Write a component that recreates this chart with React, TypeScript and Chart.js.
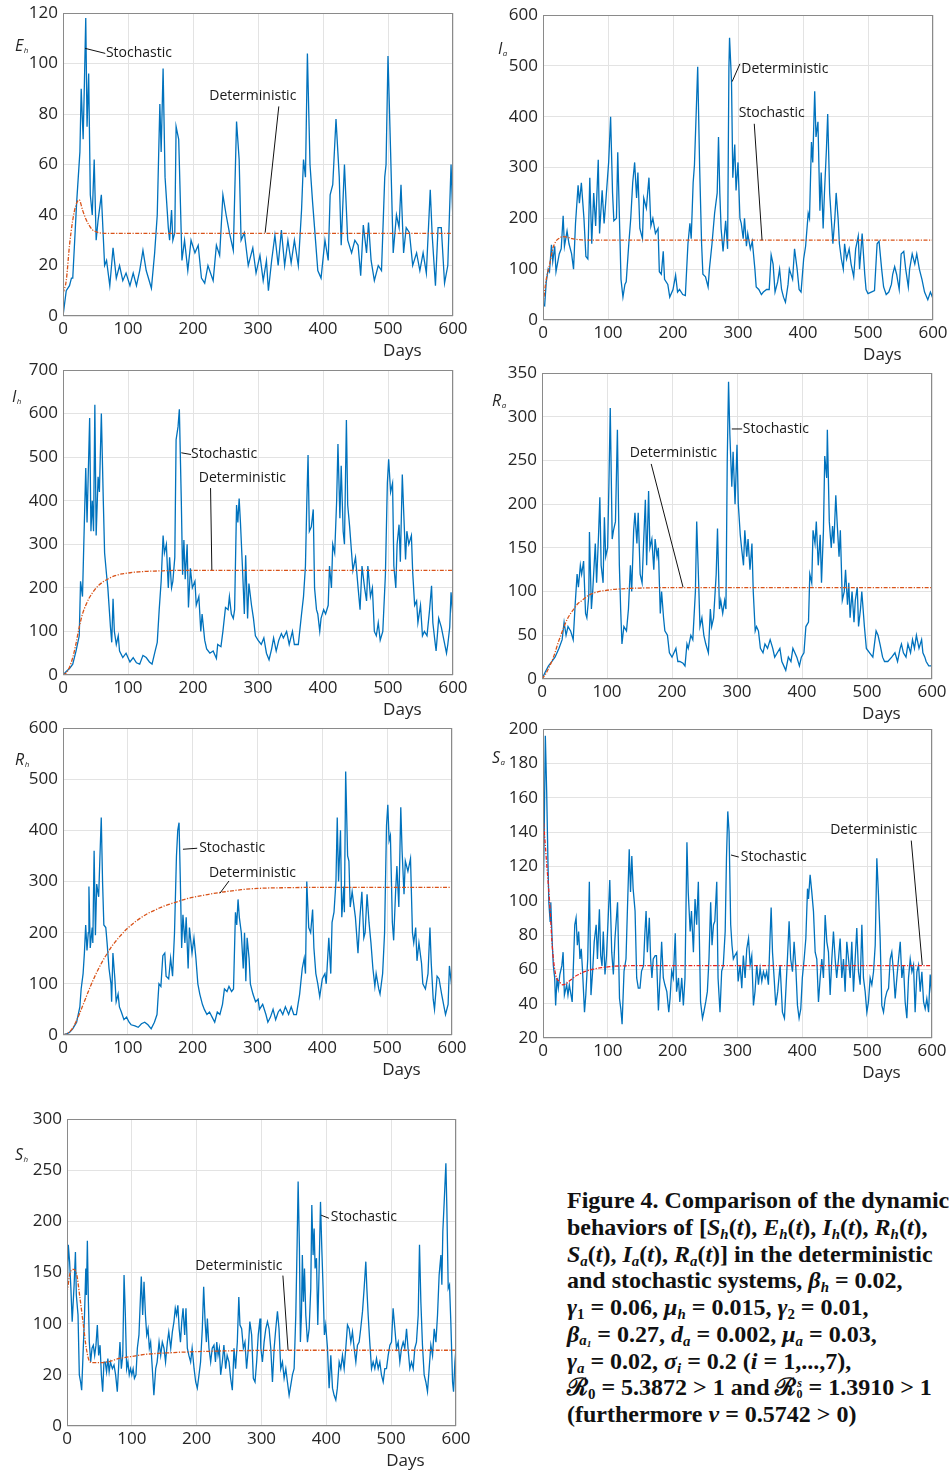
import React, { useEffect, useRef } from 'react';
import { Chart, registerables } from 'chart.js';
Chart.register(...registerables);

// ---------- data: stochastic paths as [day, value] readings ----------
const ehStoch: [number, number][] = [[0,0],[5,10],[10,12],[13,15],[15,15],[18,30],[21,45],[26,65],[28,90],[31,70],[33,93],[35,118],[37,75],[39.5,96],[42,48],[45,40],[48,62],[51,30],[54,38],[59,48],[64,20],[67,22],[72,12],[77,27],[82,15],[87,20],[92,14],[97,17],[103,12],[108,17],[113,12],[118,18],[123,26],[128,18],[136,11],[141,25],[145,40],[149,84],[151,65],[154,98],[157,55],[162,35],[164,30],[167,42],[169,30],[172,33],[174,75],[178,70],[183,22],[187,30],[192,18],[197,30],[203,25],[208,28],[213,15],[218,13],[223,20],[231,14],[236,28],[241,24],[246,48],[251,40],[256,33],[262,26],[267,77],[271,62],[274,30],[279,33],[285,20],[292,27],[297,17],[303,24],[308,14],[313,22],[316,10],[321,22],[326,32],[331,20],[336,34],[341,20],[346,30],[351,21],[356,30],[362,20],[367,42],[370,62],[373,55],[376,104],[380,60],[384,45],[387,35],[392,18],[397,15],[403,30],[408,22],[411,48],[415,52],[420,78],[425,55],[428,28],[433,60],[438,30],[444,25],[449,30],[454,28],[458,16],[462,36],[467,25],[470,37],[474,22],[479,14],[485,20],[490,18],[495,55],[497,60],[500,103],[504,65],[508,25],[513,40],[517,35],[520,52],[524,25],[528,35],[533,33],[538,20],[544,25],[549,18],[554,25],[559,17],[565,50],[568,32],[573,12],[577,35],[582,35],[587,13],[592,20],[597,60],[600,37]];

const iaStoch: [number, number][] = [[0,30],[2.5,28],[5,75],[8,100],[10,95],[13,148],[15,115],[18,145],[20,95],[25,130],[28,140],[31,205],[33,145],[37,175],[40,150],[44,130],[47,100],[50,190],[54,265],[56,230],[59,270],[63,200],[66,125],[69,120],[72,280],[75,150],[78,250],[81,185],[85,315],[87,170],[91,255],[94,190],[97,240],[101,310],[104,400],[107,250],[109,195],[113,200],[115,330],[118,180],[120,80],[123,45],[126,70],[128,75],[132,150],[135,200],[138,270],[141,310],[144,240],[146,290],[149,180],[153,160],[155,240],[159,220],[163,280],[166,185],[169,200],[173,170],[177,180],[179,95],[182,90],[185,135],[187,80],[192,70],[195,45],[200,60],[204,88],[207,55],[210,60],[215,50],[219,48],[223,150],[226,190],[228,160],[231,270],[233,305],[236,420],[238,498],[241,300],[244,150],[246,90],[250,85],[254,65],[256,100],[260,150],[264,210],[268,250],[270,360],[272,250],[274,180],[277,135],[281,195],[284,140],[286,495],[287,555],[290,470],[292,280],[295,345],[297,255],[300,310],[303,200],[305,190],[308,160],[310,200],[313,145],[315,170],[319,140],[322,155],[326,100],[328,65],[332,60],[336,50],[339,55],[344,60],[348,60],[351,128],[354,110],[357,55],[361,75],[364,100],[367,60],[370,45],[373,35],[377,70],[379,100],[384,80],[387,140],[391,100],[394,60],[397,55],[401,120],[404,145],[408,210],[410,200],[413,350],[415,310],[418,450],[420,360],[423,390],[426,215],[428,290],[431,180],[433,250],[436,335],[438,405],[441,250],[444,190],[446,150],[449,200],[451,250],[454,200],[456,150],[459,120],[462,100],[464,150],[467,120],[471,140],[474,110],[478,85],[481,140],[485,165],[487,100],[491,170],[495,90],[497,60],[500,52],[505,55],[510,58],[514,150],[517,155],[521,100],[524,65],[528,50],[532,55],[536,70],[538,90],[541,105],[544,90],[548,60],[551,130],[555,135],[558,100],[562,65],[564,100],[568,130],[572,110],[575,130],[579,100],[583,80],[587,55],[592,40],[596,55],[600,42]];

const ihStoch: [number, number][] = [[0,0],[5,8],[10,15],[15,25],[20,55],[25,90],[27,215],[30,180],[32,300],[35,475],[37,350],[41,590],[43,330],[45,400],[47,330],[49,620],[51,320],[54,455],[56,420],[59,600],[62,400],[64,280],[67,230],[69,200],[73,110],[75,75],[77,175],[79,100],[82,70],[85,90],[87,55],[92,40],[97,50],[103,30],[108,40],[113,28],[118,25],[123,45],[128,40],[133,30],[137,25],[141,50],[145,75],[148,150],[151,215],[154,320],[156,280],[159,300],[162,200],[164,270],[167,200],[169,215],[172,270],[174,540],[177,570],[179,610],[182,400],[184,230],[186,310],[188,220],[191,300],[193,155],[196,245],[199,200],[203,215],[205,160],[209,180],[212,100],[214,140],[218,80],[221,60],[226,50],[231,55],[236,38],[238,70],[243,65],[246,100],[250,155],[254,150],[256,180],[259,140],[262,130],[264,150],[267,390],[269,350],[271,405],[273,350],[276,250],[279,140],[281,275],[284,130],[286,210],[290,160],[293,130],[296,90],[300,80],[305,70],[309,85],[313,50],[317,35],[321,60],[324,85],[328,55],[332,80],[336,95],[339,85],[344,100],[348,70],[353,100],[356,70],[362,70],[367,140],[370,180],[373,250],[375,390],[377,505],[379,330],[382,340],[385,380],[387,200],[390,150],[392,140],[395,100],[397,130],[401,150],[404,140],[408,160],[410,250],[413,200],[415,300],[418,280],[421,400],[423,530],[426,360],[428,480],[431,330],[433,300],[436,585],[438,390],[441,340],[444,280],[446,240],[450,270],[454,200],[457,150],[460,250],[464,200],[467,170],[469,250],[473,180],[476,200],[479,100],[482,90],[485,120],[488,80],[492,100],[496,230],[499,440],[501,495],[504,420],[507,440],[509,250],[512,200],[514,300],[517,345],[519,260],[522,460],[524,380],[527,265],[529,330],[532,300],[536,320],[538,235],[541,160],[544,170],[546,120],[550,160],[553,90],[556,100],[560,90],[564,150],[567,205],[569,120],[572,80],[574,55],[578,130],[582,110],[586,80],[590,50],[592,70],[595,110],[597,190],[600,130]];

const raStoch: [number, number][] = [[0,0],[5,8],[10,15],[15,20],[20,25],[26,35],[31,45],[34,65],[37,50],[40,60],[44,55],[48,45],[51,85],[54,120],[56,105],[59,130],[61,120],[64,135],[67,75],[69,70],[72,95],[73,168],[76,80],[78,100],[82,155],[84,110],[87,165],[89,208],[91,130],[94,110],[96,185],[98,140],[101,150],[103,225],[105,310],[108,160],[110,170],[113,180],[116,285],[119,130],[121,80],[123,40],[126,60],[130,55],[133,80],[136,130],[138,100],[141,170],[143,190],[146,155],[148,190],[151,120],[154,110],[156,150],[159,205],[161,130],[164,215],[166,150],[169,160],[172,125],[174,160],[177,140],[179,150],[182,75],[184,100],[187,70],[189,55],[193,50],[196,30],[200,25],[203,30],[206,35],[209,20],[212,20],[217,18],[220,15],[223,40],[225,35],[229,50],[232,45],[236,100],[238,180],[241,110],[243,60],[246,70],[249,50],[252,40],[256,30],[259,80],[261,60],[264,70],[268,120],[270,172],[273,80],[275,90],[278,75],[281,90],[283,80],[285,250],[287,340],[289,280],[292,220],[294,260],[297,200],[300,268],[302,200],[305,165],[307,150],[310,130],[312,170],[315,140],[317,160],[320,125],[323,155],[325,100],[328,55],[330,60],[333,55],[336,35],[340,30],[343,40],[347,35],[351,45],[355,35],[358,25],[362,30],[366,35],[369,20],[372,15],[375,10],[379,25],[383,20],[386,35],[389,30],[392,25],[396,15],[399,25],[403,30],[406,60],[410,65],[412,120],[415,110],[417,170],[420,155],[422,180],[425,130],[428,165],[430,110],[433,170],[435,255],[438,230],[439,285],[442,180],[445,150],[447,175],[449,155],[452,210],[454,180],[457,140],[459,170],[462,90],[465,100],[467,125],[470,85],[472,110],[474,70],[477,100],[480,65],[482,90],[485,105],[487,60],[490,80],[492,100],[496,60],[499,35],[504,30],[509,25],[514,55],[517,50],[520,40],[524,25],[527,20],[532,20],[538,25],[543,30],[547,20],[551,35],[553,40],[556,30],[560,25],[563,40],[567,30],[570,45],[573,35],[576,50],[580,35],[584,45],[586,30],[589,25],[591,20],[595,15],[600,15]];

const rhStoch: [number, number][] = [[0,0],[5,2],[10,5],[15,12],[21,25],[26,55],[28,90],[31,120],[33,160],[35,215],[37,165],[39,200],[40,290],[42,170],[45,210],[46,180],[48,360],[50,195],[52,295],[55,270],[57,350],[59,425],[61,300],[63,215],[66,210],[68,180],[71,130],[74,100],[75,65],[77,160],[80,110],[82,65],[85,80],[87,55],[90,45],[94,30],[98,35],[102,25],[105,20],[111,18],[116,15],[121,22],[126,25],[131,20],[136,12],[141,25],[145,40],[148,100],[151,95],[154,155],[157,160],[159,115],[163,110],[166,150],[169,115],[172,200],[175,350],[177,400],[179,415],[181,300],[183,170],[185,235],[188,180],[190,230],[193,130],[195,210],[199,160],[202,190],[205,150],[208,100],[211,80],[215,60],[218,50],[222,40],[226,45],[230,35],[234,25],[238,45],[242,40],[246,60],[249,90],[253,85],[256,95],[260,85],[263,90],[266,240],[268,215],[270,265],[272,230],[275,200],[278,130],[280,200],[282,105],[284,190],[287,150],[289,100],[293,80],[297,65],[301,70],[303,50],[308,60],[313,40],[316,25],[320,35],[324,50],[328,30],[332,45],[335,50],[339,40],[343,55],[348,40],[352,55],[356,40],[360,40],[365,80],[369,130],[372,150],[374,120],[376,300],[379,210],[382,200],[385,245],[387,170],[390,120],[393,100],[396,75],[400,110],[404,120],[406,100],[410,190],[413,120],[415,220],[418,240],[421,300],[423,425],[425,300],[428,400],[430,230],[433,290],[434,240],[436,515],[439,350],[441,340],[443,250],[446,280],[449,250],[451,230],[455,160],[458,230],[461,280],[464,190],[466,200],[469,275],[472,220],[475,180],[478,130],[481,95],[483,120],[487,90],[489,80],[493,120],[496,200],[499,410],[501,450],[503,380],[505,390],[508,220],[510,185],[513,280],[515,330],[518,250],[521,445],[523,360],[526,275],[528,340],[532,320],[536,345],[539,200],[541,180],[544,210],[546,145],[549,180],[553,140],[555,100],[559,90],[563,120],[566,210],[568,140],[571,70],[573,50],[577,115],[580,110],[584,80],[587,60],[590,40],[594,60],[596,135],[600,90]];

const saStoch: [number, number][] = [[0,150],[0.5,105],[2,144],[3.6,196],[5.7,163],[7.7,121],[9,99],[11,88],[12,99],[14.4,74],[16,62],[18,55],[19.5,39],[21.6,55],[23.6,49],[26,57],[29,62],[31,70],[33,45],[36.5,51],[38.5,45],[40.6,51],[45,41],[49,86],[51,90],[53,74],[55,82],[57,66],[59,72],[61,59],[64,35],[66,45],[69,66],[71.5,111],[74,45],[76.6,59],[79,76],[82,86],[84,66],[87,95],[89,68],[91,62],[93,82],[95.6,57],[98,68],[101,94],[103,112],[106,70],[108.5,57],[111,78],[115,99],[118,43],[120,37],[122,28],[125,59],[128,66],[130,92],[133,130],[135,105],[137,126],[139,107],[142,94],[144.5,55],[147,49],[149.6,49],[152,59],[155,62],[157,80],[159,94],[161,70],[164,90],[166,66],[168,55],[170,66],[173,68],[175,68],[178,36],[180.5,55],[183,76],[185.6,55],[188,51],[191,47],[194,35],[196,43],[198.5,59],[201,55],[204,81],[206,47],[209,55],[211,41],[214,55],[216.5,39],[219,55],[222,134],[224,105],[227,82],[229,94],[232,70],[234.5,101],[237,86],[239.6,111],[241,82],[243,41],[246,31.5],[248,35],[251,41],[253.5,47],[256,66],[258.6,99],[260.7,74],[263,86],[265,88],[268,111],[270,55],[273,35],[275.6,59],[278,62],[281,82],[283,125],[285,152],[287,140],[289.5,86],[291.5,74],[293.6,66],[296,68],[299,70],[301,53],[304,62.5],[306.6,49],[309,68],[311.7,55],[314.3,72],[317,78],[319.5,62.5],[322,68],[324.6,39],[327,47],[329.7,62.5],[332.3,51],[334.9,60.6],[337.5,53],[340,58.6],[342.6,55],[345,58.6],[347.7,51],[350.3,80],[351.9,96],[354,70],[356.5,55],[359,39],[362,47],[365.7,62.5],[369.3,35],[372.4,31.5],[374.5,47],[377,66],[379.6,88],[382,66],[384.8,58.6],[387.3,76],[390,60.6],[392.5,39],[395,31.5],[397.6,37],[400,55],[402.8,66],[405.4,78],[408,107],[409.5,101],[412,115],[414.6,105],[417.2,93.6],[419.8,70],[422.3,66],[424.9,41],[427.5,55],[430,66],[432.6,55],[435.2,91.6],[437.8,76],[440.3,70],[442.9,45],[445.5,66],[448,82],[450.6,66],[453,55],[455.8,66],[458.3,78],[460.9,55],[463.5,66],[466,47],[468.6,76],[471.2,66],[473.8,55],[476.3,76],[478.9,47],[481.5,66],[484,84],[486.6,58.6],[489.2,51],[491.8,86],[494.3,55],[496.9,47],[499.5,35],[502,41],[504.6,55],[507.2,51],[509.8,58.6],[512.4,74],[514.9,124.7],[517.5,103],[520,78],[522.6,39],[525.2,35],[527.8,43],[530.4,47],[533,49],[535.5,66],[538,70],[540.6,58.6],[543.2,43],[545.8,55],[548.4,66],[551,76],[553.5,55],[556,62.5],[558.6,41],[561.2,31.5],[563.8,55],[566.4,66],[569,58.6],[571.5,62.5],[574,35],[576.7,58.6],[579.2,62.5],[581.8,47],[584.4,58.6],[587,41],[589.5,37],[592,43],[594.7,35],[597.2,57],[600,43]];

const shStoch: [number, number][] = [[0,121.5],[2,177],[4,160.6],[6,134.5],[8,102],[11,138],[13,170],[14.4,128],[17,108.5],[19,50],[21,43],[22.6,35],[24.7,69],[27,108.5],[29,154],[30,128],[31.4,181],[33,121.5],[34.4,82],[36.5,62.5],[38.6,76],[40.6,79],[42.7,69],[44.7,79],[46.8,98.7],[48.8,69],[51,79],[53,50],[55,33.6],[57,62.5],[59,62.5],[61,53],[63,66],[65,53],[67,62.5],[70,56],[72.5,59.6],[75,50],[77.6,33.6],[80,62.5],[81.7,82],[83.8,56],[86,69],[88,147.6],[90,108.5],[92,56],[94,62.5],[96,50],[98,56],[100,50],[102,56],[104,46.6],[106.4,50],[108.5,76],[111,89],[112.6,115],[114.6,146],[116.7,108.5],[118.8,141],[121,108.5],[123,89],[125,95],[127,76],[129,82],[131.6,56],[134,30],[136.8,56],[139,62.5],[142,82],[144.5,69],[147,82],[149.6,76],[152,62.5],[154.8,82],[157,92],[160,76],[162.5,92],[165,102],[167,115],[169,108.5],[171,118],[173,95],[175,82],[177,102],[179,115],[181.5,89],[183.5,115],[185.6,76],[188,69],[190.7,62.5],[193,76],[196,56],[198.5,43],[201,37],[203.6,50],[206,62.5],[208.7,95],[210.8,136],[213,102],[215,82],[216.5,105],[219,76],[221.6,62.5],[224,76],[226.7,79],[229,62.5],[231,82],[233,69],[235,76],[237,50],[239.6,62.5],[242,79],[244.7,56],[247,69],[249.9,62.5],[252.4,46.6],[255,35],[257.6,76],[260,56],[262.7,82],[265,126],[266.8,98.7],[269.4,95],[272,76],[274.5,82],[277,56],[279.7,76],[282,102],[284.8,89],[287.4,46.6],[290,43],[292.5,62.5],[295,89],[297.7,105],[299,76],[301.4,62.5],[304,82],[306.6,95],[309.2,102],[311.7,95],[314.3,76],[316.9,43],[319.5,76],[322,95],[324.6,112],[327,95],[329.7,56],[332.3,62.5],[334.9,46.6],[337.5,56],[340,43],[342.6,30],[345.2,40],[347.7,50],[350.3,56],[352.9,108.5],[355,180],[356.5,239],[358.5,173.6],[360,82],[361.6,108.5],[363,167],[364.7,121.5],[366.3,154],[368.3,108.5],[370.9,82],[373.5,95],[376,134.5],[377.6,216],[379.6,167],[381.2,193],[382.7,154],[384.8,164],[386.8,98.7],[388.9,154],[391,219],[393,173.6],[395,134.5],[397,89],[399,98.7],[401.8,76],[404.3,37],[406.9,69],[409.5,37],[412,30],[414.6,25.4],[417,37],[419.8,62.5],[422.3,56],[424.9,69],[427.5,56],[430,76],[432.6,98.7],[435.2,95],[437.8,82],[440.3,92],[442.9,76],[445.5,62.5],[448,79],[450.6,82],[453,95],[455.8,112],[458.3,134.5],[460.9,160.6],[462.5,134.5],[464.5,108.5],[467,82],[469.7,56],[472.2,62.5],[474.8,56],[477.4,66],[480,56],[482.5,62.5],[485,50],[487.7,43],[490.2,56],[492.8,56],[495.4,69],[498,79],[500.5,82],[503,115],[505.7,95],[508.2,76],[510.8,82],[513.4,62.5],[516,76],[518.5,82],[521,76],[523.7,95],[526,76],[528.8,56],[531.4,62.5],[534,56],[536.5,76],[539,82],[541.7,108.5],[543.7,177],[545.8,121.5],[548.3,79],[550.9,50],[553.5,43],[556,33.6],[558.6,56],[561.2,79],[563.8,69],[566.4,95],[569,82],[571.5,108.5],[574,147.6],[576.7,167],[578.2,138],[579.7,190],[581.8,219],[584.4,256.7],[585.9,212.7],[588,134.5],[590,138],[592,102],[594.7,43],[596.2,33.6],[598.3,62.5],[600,76]];

// ---------- data: deterministic curves (sampled on detDays) ----------
const detDays = [0,5,10,15,20,25,30,35,40,45,50,55,60,65,70,75,80,85,90,95,100,
110,120,130,140,150,160,170,180,190,200,225,250,275,300,350,400,450,500,550,600];

const ehDet = [9,14,28,38,44,46,42,38.5,36,34.2,
33.5,33,32.8,32.7,32.7,32.7,32.7,32.7,32.7,32.7,32.7,
32.7,32.7,32.7,32.7,32.7,32.7,32.7,32.7,32.7,32.7,
32.7,32.7,32.7,32.7,32.7,32.7,32.7,32.7,32.7,32.7];
const iaDet = [30,80,108,140,155,161,164,163.5,162,160,
159,158,157.5,157,157,157,157,157,157,157,157,
157,157,157,157,157,157,157,157,157,157,
157,157,157,157,157,157,157,157,157,157];
const ihDet = [0,5,18,40,72,110,140,160,176,188,
198,206,212,217,221,225,228,230,232,233,234,
236,237,238,238.5,239,239.5,240,240,240,240,
240,240,240,240,240,240,240,240,240,240];
const raDet = [0,5,12,20,30,42,52,62,70,76,
81,86,89,92,95,97,98.5,99.5,100.5,101,101.5,
102.5,103,103.5,103.8,104,104.2,104.4,104.5,104.5,104.5,
104.5,104.5,104.5,104.5,104.5,104.5,104.5,104.5,104.5,104.5];
const rhDet = [0,2,6,14,26,40,56,72,88,103,
117,130,142,153,163,173,181,189,196,203,209,
220,229,237,243,249,254,258,262,266,269,
275,280,284,286.5,288,288.5,288.5,288.5,288.5,288.5];
const saDet = [150,125,100,70,56,53,51,51.5,53,54.5,
56,57,58,58.8,59.4,59.9,60.3,60.7,61,61.2,61.4,
61.8,62,62.1,62.2,62.2,62.2,62.2,62.2,62.2,62.2,
62.2,62.2,62.2,62.2,62.2,62.2,62.2,62.2,62.2,62.2];
const shDet = [130,150,153,148,125,100,75,63,62,62,
62,62,62.5,63,64,65,66,66.5,67,67.5,68,
69,70,70.5,71,71.3,71.6,72,72.2,72.5,72.7,
73.1,73.5,73.7,73.9,74,74,74,74,74,74];

const xTicks = [0, 100, 200, 300, 400, 500, 600];
const shTickLabels = ['0', '20', '100', '150', '200', '250', '300'];

// ---------- layout / style ----------
const PAD_L = 60, PAD_T = 20, PAD_R = 26, PAD_B = 50;
const FONT = '"Open Sans", "DejaVu Sans", sans-serif';
const TEXT = '#262626';

type Note = { text: string; x: number; y: number };
type Leader = [number, number, number, number];
type Panel = {
  left: number; top: number; w: number; h: number;
  yMin: number; yMax: number; yStep: number;
  stoch: [number, number][]; det: number[]; detColor: string;
  sym: string; sub: string; tdx: number; tdy: number;
  notes: Note[]; leaders: Leader[]; tickLabels?: string[];
};

const panels: Panel[] = [
  { left: 63, top: 13, w: 390, h: 303, yMin: 0, yMax: 120, yStep: 20, stoch: ehStoch, det: ehDet, detColor: '#D95319',
    sym: 'E', sub: 'h', tdx: -48, tdy: 33,
    notes: [{ text: 'Stochastic', x: 66, y: 104 }, { text: 'Deterministic', x: 225, y: 87 }],
    leaders: [[34, 106, 65, 104], [332, 83, 311, 33]] },
  { left: 543, top: 15, w: 390, h: 305, yMin: 0, yMax: 600, yStep: 100, stoch: iaStoch, det: iaDet, detColor: '#D95319',
    sym: 'I', sub: 'a', tdx: -45, tdy: 34,
    notes: [{ text: 'Deterministic', x: 305, y: 494 }, { text: 'Stochastic', x: 301, y: 407 }],
    leaders: [[291, 469, 303, 504], [325, 386, 337, 157]] },
  { left: 63, top: 370, w: 390, h: 305, yMin: 0, yMax: 700, yStep: 100, stoch: ihStoch, det: ihDet, detColor: '#D95319',
    sym: 'I', sub: 'h', tdx: -51, tdy: 27,
    notes: [{ text: 'Stochastic', x: 197, y: 507 }, { text: 'Deterministic', x: 209, y: 452 }],
    leaders: [[182, 510, 197, 506], [227, 429, 229, 241]] },
  { left: 542, top: 373, w: 390, h: 306, yMin: 0, yMax: 350, yStep: 50, stoch: raStoch, det: raDet, detColor: '#D95319',
    sym: 'R', sub: 'a', tdx: -50, tdy: 28,
    notes: [{ text: 'Stochastic', x: 309, y: 286 }, { text: 'Deterministic', x: 135, y: 259 }],
    leaders: [[292, 286, 308, 286], [168, 246, 217, 105]] },
  { left: 63, top: 728, w: 389, h: 307, yMin: 0, yMax: 600, yStep: 100, stoch: rhStoch, det: rhDet, detColor: '#D95319',
    sym: 'R', sub: 'h', tdx: -48, tdy: 32,
    notes: [{ text: 'Stochastic', x: 210, y: 365 }, { text: 'Deterministic', x: 225, y: 317 }],
    leaders: [[185, 363, 207, 365], [256, 301, 242, 277]] },
  { left: 543, top: 729, w: 389, h: 309, yMin: 20, yMax: 200, yStep: 20, stoch: saStoch, det: saDet, detColor: '#E8251F',
    sym: 'S', sub: 'a', tdx: -51, tdy: 29,
    notes: [{ text: 'Stochastic', x: 305, y: 125.4 }, { text: 'Deterministic', x: 443, y: 141 }],
    leaders: [[290, 126.6, 302, 125.4], [568, 135, 585, 62.5]] },
  { left: 67, top: 1119, w: 389, h: 307, yMin: 0, yMax: 300, yStep: 50, stoch: shStoch, det: shDet, detColor: '#D95319',
    sym: 'S', sub: 'h', tdx: -52, tdy: 36, tickLabels: shTickLabels,
    notes: [{ text: 'Stochastic', x: 407, y: 204 }, { text: 'Deterministic', x: 198, y: 156 }],
    leaders: [[392, 206, 404, 203], [333, 147, 341, 74]] },
];

function makeDecor(p: Panel) {
  return {
    id: 'decor',
    afterDraw(chart: any) {
      const { ctx, chartArea: a, scales } = chart;
      const xs = scales.x, ys = scales.y;
      ctx.save();
      ctx.strokeStyle = '#8a8a8a';
      ctx.lineWidth = 1;
      ctx.strokeRect(Math.round(a.left) + 0.5, Math.round(a.top) + 0.5, Math.round(a.width) - 1, Math.round(a.height) - 1);
      ctx.strokeStyle = '#111';
      ctx.lineWidth = 1;
      for (const [x1, y1, x2, y2] of p.leaders) {
        ctx.beginPath();
        ctx.moveTo(xs.getPixelForValue(x1), ys.getPixelForValue(y1));
        ctx.lineTo(xs.getPixelForValue(x2), ys.getPixelForValue(y2));
        ctx.stroke();
      }
      ctx.font = '14px ' + FONT;
      ctx.fillStyle = '#1a1a1a';
      ctx.textBaseline = 'middle';
      ctx.textAlign = 'left';
      for (const n of p.notes) ctx.fillText(n.text, xs.getPixelForValue(n.x), ys.getPixelForValue(n.y));
      ctx.font = '17px ' + FONT;
      ctx.fillStyle = TEXT;
      ctx.textAlign = 'center';
      ctx.fillText('Days', xs.getPixelForValue(522), a.bottom + 35);
      ctx.textAlign = 'left';
      ctx.font = 'italic 16px ' + FONT;
      const tx = a.left + p.tdx, ty = a.top + p.tdy;
      ctx.fillText(p.sym, tx, ty);
      const sw = ctx.measureText(p.sym).width;
      ctx.font = 'italic 8px ' + FONT;
      ctx.fillText(p.sub, tx + sw + 0.5, ty + 5);
      ctx.restore();
    },
  };
}

function PanelChart({ p }: { p: Panel }) {
  const ref = useRef<HTMLCanvasElement | null>(null);
  const W = p.w + PAD_L + PAD_R;
  const H = p.h + PAD_T + PAD_B;
  useEffect(() => {
    if (!ref.current) return;
    const yTicks: any = { stepSize: p.yStep, color: TEXT, font: { size: 17, family: FONT }, padding: 5, autoSkip: false };
    if (p.tickLabels) {
      const labs = p.tickLabels;
      yTicks.callback = (_v: any, i: number) => labs[i];
    }
    const chart = new Chart(ref.current, {
      type: 'line',
      data: {
        datasets: [
          {
            data: detDays.map((d, i) => ({ x: d, y: p.det[i] })),
            borderColor: p.detColor, borderWidth: 1.3, borderDash: [4, 1.5, 1.2, 1.5],
            pointRadius: 0, cubicInterpolationMode: 'monotone', fill: false,
          },
          {
            data: p.stoch.map(([d, v]) => ({ x: d, y: v })),
            borderColor: '#0072BD', borderWidth: 1.3, pointRadius: 0, tension: 0, fill: false,
          },
        ],
      } as any,
      options: {
        responsive: false,
        animation: false,
        devicePixelRatio: 1,
        layout: { padding: { left: 0, top: PAD_T, right: PAD_R, bottom: 0 } },
        plugins: { legend: { display: false }, tooltip: { enabled: false } },
        scales: {
          x: {
            type: 'linear', min: xTicks[0], max: xTicks[xTicks.length - 1],
            ticks: { stepSize: xTicks[1] - xTicks[0], color: TEXT, font: { size: 17, family: FONT }, padding: 3, maxRotation: 0, autoSkip: false },
            grid: { color: '#e3e3e3', drawTicks: false },
            border: { display: false },
            afterFit: (s: any) => { s.height = PAD_B; },
          },
          y: {
            type: 'linear', min: p.yMin, max: p.yMax,
            ticks: yTicks,
            grid: { color: '#e3e3e3', drawTicks: false },
            border: { display: false },
            afterFit: (s: any) => { s.width = PAD_L; },
          },
        },
      } as any,
      plugins: [makeDecor(p)],
    });
    return () => chart.destroy();
  }, [p]);
  return (
    <canvas ref={ref} width={W} height={H}
      style={{ position: 'absolute', left: p.left - PAD_L, top: p.top - PAD_T, width: W, height: H }} />
  );
}

const subS: React.CSSProperties = { fontSize: '0.62em', lineHeight: 0, verticalAlign: '-0.25em' };
const Sb = ({ children }: { children: React.ReactNode }) => <span style={subS}>{children}</span>;

function Caption() {
  const line: React.CSSProperties = { height: 26.75, whiteSpace: 'nowrap' };
  return (
    <div style={{ position: 'absolute', left: 567, top: 1187, font: 'bold 24px "Liberation Serif", "Times New Roman", serif', color: '#111', lineHeight: '26.75px' }}>
      <div style={line}>Figure 4. Comparison of the dynamic</div>
      <div style={line}>behaviors of [<i>S<Sb>h</Sb></i>(<i>t</i>), <i>E<Sb>h</Sb></i>(<i>t</i>), <i>I<Sb>h</Sb></i>(<i>t</i>), <i>R<Sb>h</Sb></i>(<i>t</i>),</div>
      <div style={line}><i>S<Sb>a</Sb></i>(<i>t</i>), <i>I<Sb>a</Sb></i>(<i>t</i>), <i>R<Sb>a</Sb></i>(<i>t</i>)] in the deterministic</div>
      <div style={line}>and stochastic systems, <i>β<Sb>h</Sb></i> = 0.02,</div>
      <div style={line}><i>γ</i><Sb>1</Sb> = 0.06, <i>μ<Sb>h</Sb></i> = 0.015, <i>γ</i><Sb>2</Sb> = 0.01,</div>
      <div style={line}><i>β<Sb>a<Sb>1</Sb></Sb></i> = 0.27, <i>d<Sb>a</Sb></i> = 0.002, <i>μ<Sb>a</Sb></i> = 0.03,</div>
      <div style={line}><i>γ<Sb>a</Sb></i> = 0.02, <i>σ<Sb>i</Sb></i> = 0.2 (<i>i</i> = 1,...,7),</div>
      <div style={line}>ℛ<Sb>0</Sb> = 5.3872 &gt; 1 and ℛ<span style={{ display: 'inline-block', fontSize: '0.5em', lineHeight: '0.9em', verticalAlign: '-0.2em', textAlign: 'center' }}><i>s</i><br />0</span> = 1.3910 &gt; 1</div>
      <div style={line}>(furthermore <i>ν</i> = 0.5742 &gt; 0)</div>
    </div>
  );
}

export default function App() {
  return (
    <div style={{ position: 'absolute', left: 0, top: 0, width: 949, height: 1470, background: '#fff', overflow: 'hidden' }}>
      {panels.map((p, i) => <PanelChart key={i} p={p} />)}
      <Caption />
    </div>
  );
}
